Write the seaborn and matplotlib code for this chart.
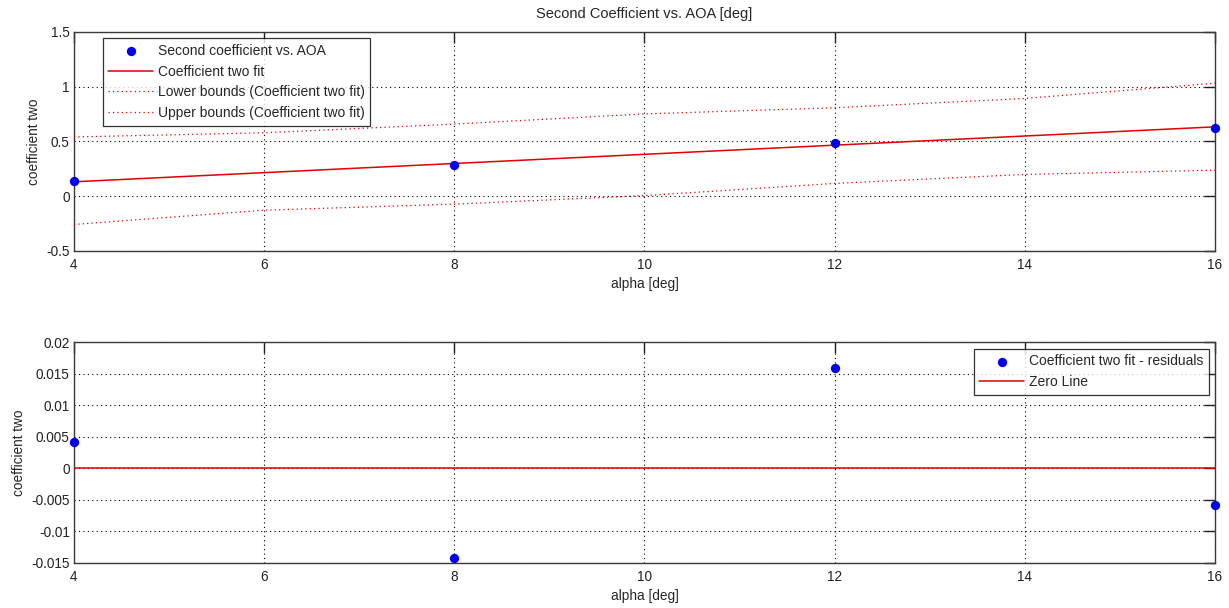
import numpy as np
import pandas as pd
import matplotlib
matplotlib.use("Agg")
import matplotlib.pyplot as plt
import seaborn as sns

# ---------------- data ----------------
alpha = [4, 8, 12, 16]
coef_two = [0.135, 0.284, 0.481, 0.626]
residuals = [0.0042, -0.0142, 0.0158, -0.0058]

fit_x = [4, 6, 8, 10, 12, 14, 16]
fit_y = [0.131, 0.2145, 0.298, 0.3815, 0.465, 0.5485, 0.632]
lower_bound = [-0.258, -0.128, -0.073, 0.005, 0.116, 0.198, 0.237]
upper_bound = [0.540, 0.578, 0.657, 0.750, 0.806, 0.891, 1.030]

zero_x = [4, 16]
zero_y = [0, 0]

x_ticks = [4, 6, 8, 10, 12, 14, 16]
x_tick_labels = ["4", "6", "8", "10", "12", "14", "16"]
top_y_ticks = [-0.5, 0, 0.5, 1, 1.5]
top_y_tick_labels = ["-0.5", "0", "0.5", "1", "1.5"]
bot_y_ticks = [-0.015, -0.01, -0.005, 0, 0.005, 0.01, 0.015, 0.02]
bot_y_tick_labels = ["-0.015", "-0.01", "-0.005", "0", "0.005", "0.01", "0.015", "0.02"]

title = "Second Coefficient vs. AOA [deg]"
xlabel = "alpha [deg]"
ylabel = "coefficient two"
top_labels = ["Second coefficient vs. AOA", "Coefficient two fit",
              "Lower bounds (Coefficient two fit)", "Upper bounds (Coefficient two fit)"]
bot_labels = ["Coefficient two fit - residuals", "Zero Line"]

# ---------------- style ----------------
sns.set_style("white")
plt.rcParams["font.family"] = ["Liberation Sans", "DejaVu Sans"]
plt.rcParams["font.size"] = 9.6
TICK_FS = 9.8
LAB_FS = 9.8
TITLE_FS = 10.5
LEG_FS = 10
SPINE = "#3a3a3a"

fig = plt.figure(figsize=(12.29, 6.08), dpi=100)
ax1 = fig.add_axes([0.0602, 0.5872, 0.9284, 0.3607])
ax2 = fig.add_axes([0.0602, 0.0745, 0.9284, 0.3630])

df_pts = pd.DataFrame({"alpha": alpha, "coef": coef_two, "res": residuals})
df_fit = pd.DataFrame({"x": fit_x, "fit": fit_y, "lo": lower_bound, "up": upper_bound})
df_zero = pd.DataFrame({"x": zero_x, "y": zero_y})

grid_ls = (0, (1, 3))

def style_axes(ax, yticks, ylabels, ylim):
    ax.set_xlim(4, 16)
    ax.set_ylim(*ylim)
    ax.set_xticks(x_ticks)
    ax.set_xticklabels(x_tick_labels, fontsize=TICK_FS)
    ax.set_yticks(yticks)
    ax.set_yticklabels(ylabels, fontsize=TICK_FS)
    ax.tick_params(direction="in", length=8, width=1.0, color="#202020",
                   top=True, right=True, labelcolor="#222222")
    ax.tick_params(axis="x", pad=5)
    ax.tick_params(axis="y", pad=3)
    ax.grid(True, color="black", linestyle=grid_ls, linewidth=0.8)
    ax.set_axisbelow(True)
    for s in ax.spines.values():
        s.set_color(SPINE)
        s.set_linewidth(1.0)
        s.set_visible(True)
    ax.set_xlabel(xlabel, fontsize=LAB_FS, labelpad=4)
    ax.set_ylabel(ylabel, fontsize=LAB_FS, labelpad=4)

def style_legend(leg):
    leg.get_frame().set_edgecolor("black")
    leg.get_frame().set_linewidth(0.9)

leg_kw = dict(frameon=True, fancybox=False, fontsize=LEG_FS, borderpad=0.42,
              labelspacing=0.47, handlelength=3.2, handletextpad=0.35,
              borderaxespad=0)

# ---- top panel ----
sns.scatterplot(data=df_pts, x="alpha", y="coef", ax=ax1, color="#0000ee",
                s=45, edgecolor="#0000ee", linewidth=0, zorder=5, clip_on=False,
                legend=False)
sns.lineplot(data=df_fit, x="x", y="fit", ax=ax1, color="#e00000", linewidth=1.1,
             zorder=3, legend=False)
sns.lineplot(data=df_fit, x="x", y="lo", ax=ax1, color="#e00000", linewidth=0.9,
             linestyle=(0, (1, 2.5)), zorder=3, legend=False)
sns.lineplot(data=df_fit, x="x", y="up", ax=ax1, color="#e00000", linewidth=0.9,
             linestyle=(0, (1, 2.5)), zorder=3, legend=False)
style_axes(ax1, top_y_ticks, top_y_tick_labels, (-0.5, 1.5))
ax1.set_title(title, fontsize=TITLE_FS, pad=9.5)

h1 = [ax1.collections[0]] + list(ax1.lines[:3])
leg1 = ax1.legend(h1, top_labels, loc="upper left", bbox_to_anchor=(0.025, 0.97),
                  **leg_kw)
style_legend(leg1)

# ---- bottom panel ----
sns.scatterplot(data=df_pts, x="alpha", y="res", ax=ax2, color="#0000ee",
                s=45, edgecolor="#0000ee", linewidth=0, zorder=5, clip_on=False,
                legend=False)
sns.lineplot(data=df_zero, x="x", y="y", ax=ax2, color="#e00000", linewidth=1.1,
             zorder=3, legend=False)
style_axes(ax2, bot_y_ticks, bot_y_tick_labels, (-0.015, 0.02))

h2 = [ax2.collections[0], ax2.lines[0]]
leg2 = ax2.legend(h2, bot_labels, loc="upper right", bbox_to_anchor=(0.9947, 0.97),
                  **leg_kw)
style_legend(leg2)

fig.savefig("out.png", dpi=100)
